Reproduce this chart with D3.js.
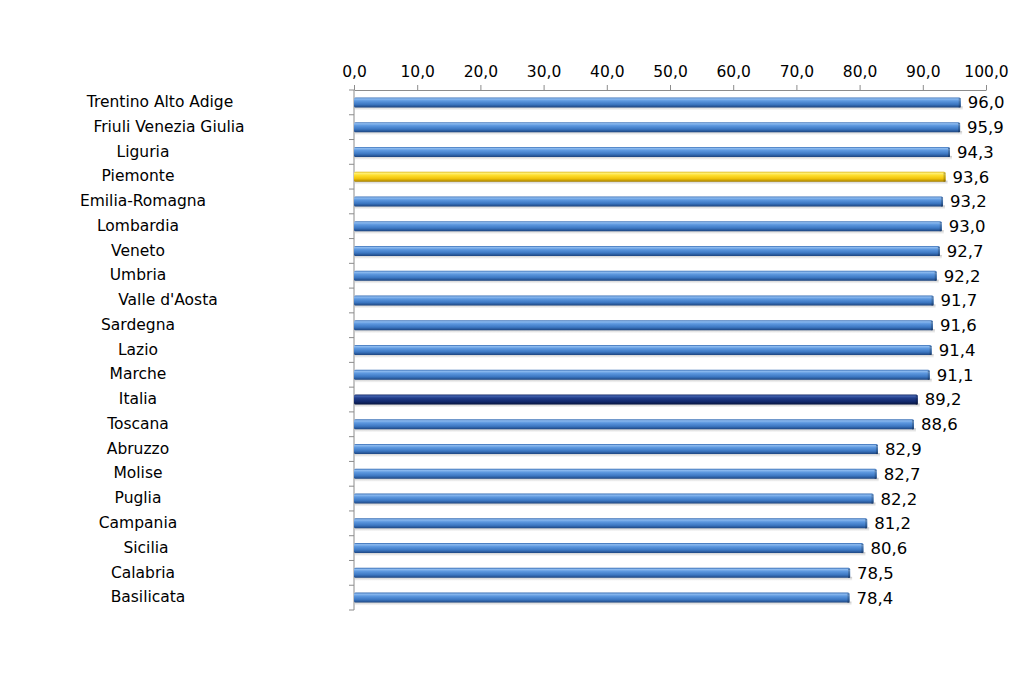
<html>
  <style type="text/css">
    body { margin: 0; background: #fff; }
    text { font-family: "DejaVu Sans", Verdana, sans-serif; fill: #000; }
  </style>
  <body>
    <script src="https://cdnjs.cloudflare.com/ajax/libs/d3/7.8.5/d3.min.js"></script>
    <script type="text/javascript">
      const regions = ["Trentino Alto Adige", "Friuli Venezia Giulia", "Liguria", "Piemonte",
        "Emilia-Romagna", "Lombardia", "Veneto", "Umbria", "Valle d'Aosta", "Sardegna",
        "Lazio", "Marche", "Italia", "Toscana", "Abruzzo", "Molise", "Puglia", "Campania",
        "Sicilia", "Calabria", "Basilicata"];
      const values = [96.0, 95.9, 94.3, 93.6, 93.2, 93.0, 92.7, 92.2, 91.7, 91.6,
        91.4, 91.1, 89.2, 88.6, 82.9, 82.7, 82.2, 81.2, 80.6, 78.5, 78.4];
      const ticks = [0, 10, 20, 30, 40, 50, 60, 70, 80, 90, 100];
      const highlight = { "Piemonte": "yellow", "Italia": "navy" };

      // label centres are not perfectly aligned in the original
      const labelShift = { "Trentino Alto Adige": 22, "Friuli Venezia Giulia": 31, "Liguria": 5,
        "Valle d'Aosta": 30, "Sicilia": 8, "Calabria": 5, "Basilicata": 10, "Emilia-Romagna": 5 };

      const props = { width: 1024, height: 678, left: 354, right: 986, top: 90, bottom: 610 };
      const fmt = v => v.toFixed(1).replace(".", ",");
      const fs = 15.5;

      const svg = d3.select("body").append("svg")
        .attr("width", props.width).attr("height", props.height);

      const defs = svg.append("defs");
      function grad(id, stops) {
        const g = defs.append("linearGradient").attr("id", id)
          .attr("x1", 0).attr("y1", 0).attr("x2", 0).attr("y2", 1);
        stops.forEach(s => g.append("stop").attr("offset", s[0]).attr("stop-color", s[1]));
      }
      grad("blue", [[0, "#356bb2"], [0.15, "#8cbaef"], [0.35, "#5d98df"], [0.7, "#3c77c2"], [1, "#1d4580"]]);
      grad("yellow", [[0, "#d8b00c"], [0.15, "#fff07a"], [0.35, "#ffe030"], [0.7, "#f0c20a"], [1, "#a88200"]]);
      grad("navy", [[0, "#142866"], [0.15, "#4262ae"], [0.35, "#213d8a"], [0.7, "#12296c"], [1, "#081540"]]);
      grad("shadow", [[0, "#c4c4c4"], [1, "#ffffff"]]);

      const x = d3.scaleLinear().domain([0, 100]).range([props.left, props.right]);
      const y = d3.scaleBand().domain(regions).range([props.top, props.bottom]);

      // top axis
      const xAxis = svg.append("g").attr("transform", `translate(0,${props.top})`)
        .call(d3.axisTop(x).tickValues(ticks).tickFormat(fmt).tickSize(5).tickSizeOuter(0));
      xAxis.select(".domain").attr("stroke", "#8c8c8c");
      xAxis.selectAll(".tick line").attr("stroke", "#8c8c8c");
      xAxis.selectAll(".tick text").attr("font-size", fs).attr("dy", "-0.3em")
        .attr("font-family", "DejaVu Sans, Verdana, sans-serif");

      // left axis with ticks between categories
      const yAxis = svg.append("g");
      yAxis.append("line").attr("x1", props.left).attr("x2", props.left)
        .attr("y1", props.top).attr("y2", props.bottom).attr("stroke", "#8c8c8c");
      yAxis.selectAll("line.sep").data(d3.range(regions.length + 1)).enter().append("line")
        .attr("class", "sep")
        .attr("x1", props.left - 5).attr("x2", props.left)
        .attr("y1", i => props.top + i * y.step()).attr("y2", i => props.top + i * y.step())
        .attr("stroke", "#8c8c8c");

      const barH = 10;
      const rows = svg.append("g").selectAll("g").data(regions).enter().append("g")
        .attr("transform", d => `translate(0,${y(d) + y.bandwidth() / 2})`);

      rows.append("rect")
        .attr("x", props.left + 1).attr("y", barH / 2 - 1)
        .attr("width", (d, i) => x(values[i]) - props.left + 1).attr("height", 4)
        .attr("fill", "url(#shadow)");

      rows.append("rect")
        .attr("x", props.left).attr("y", -barH / 2)
        .attr("width", (d, i) => x(values[i]) - props.left).attr("height", barH)
        .attr("rx", 1.5)
        .attr("fill", d => `url(#${highlight[d] || "blue"})`);

      // darker bevelled end cap
      rows.append("rect")
        .attr("x", (d, i) => x(values[i]) - 2).attr("y", -barH / 2 + 1)
        .attr("width", 2).attr("height", barH - 1)
        .attr("fill", d => `url(#${highlight[d] || "blue"})`)
        .attr("opacity", 0.9)
        .style("filter", "brightness(0.75)");

      rows.append("text")
        .attr("x", (d, i) => x(values[i]) + 7).attr("dy", "0.36em")
        .attr("font-size", 16.5)
        .text((d, i) => fmt(values[i]));

      rows.append("text")
        .attr("x", d => 138 + (labelShift[d] || 0)).attr("dy", "0.3em")
        .attr("text-anchor", "middle").attr("font-size", fs)
        .text(d => d);
    </script>
  </body>
</html>
